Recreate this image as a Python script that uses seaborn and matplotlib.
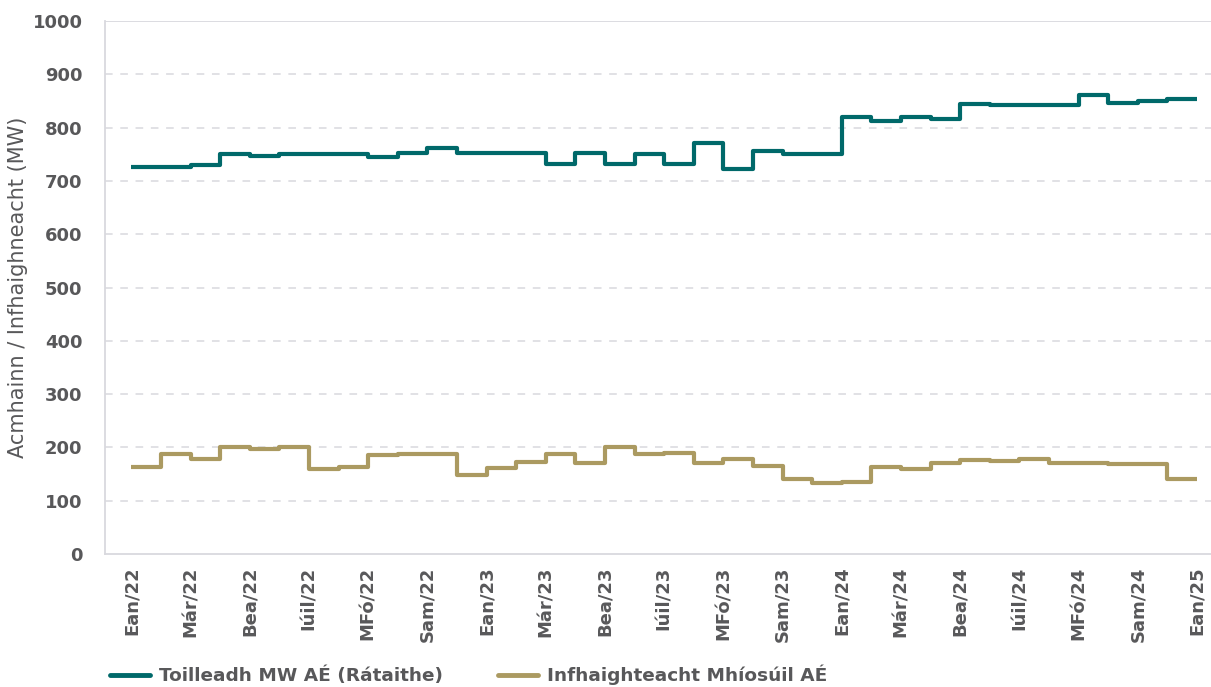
import numpy as np
import pandas as pd
import matplotlib
matplotlib.use("Agg")
import matplotlib.pyplot as plt
import seaborn as sns

# Monthly series, Jan 2022 .. Jan 2025
months = ["Ean", "Fea", "Már", "Aib", "Bea", "Mei", "Iúil", "Lún", "MFó", "DFó", "Sam", "Nol"]
years = ["22", "23", "24", "25"]
month_labels = [f"{months[i % 12]}/{years[i // 12]}" for i in range(37)]

capacity_rated = [727, 727, 730, 750, 747, 751, 751, 751, 745, 753, 761, 753,
                  753, 753, 732, 753, 732, 750, 732, 772, 722, 756, 751, 751,
                  819, 813, 819, 816, 845, 842, 842, 842, 862, 847, 850, 853,
                  853]
availability_monthly = [163, 187, 179, 201, 197, 200, 159, 164, 186, 188, 188, 148,
                        161, 172, 188, 170, 201, 187, 190, 170, 179, 165, 140, 133,
                        135, 164, 159, 170, 177, 174, 179, 171, 171, 169, 169, 140,
                        140]

series_names = ["Toilleadh MW AÉ (Rátaithe)", "Infhaighteacht Mhíosúil AÉ"]
palette = {series_names[0]: "#00696A", series_names[1]: "#AB9A61"}

df = pd.DataFrame({
    "idx": list(range(37)) * 2,
    "value": capacity_rated + availability_monthly,
    "series": [series_names[0]] * 37 + [series_names[1]] * 37,
})

sns.set_theme(style="white")
plt.rcParams["font.family"] = ["DejaVu Sans"]

text_grey = "#58585A"
grid_grey = "#D9D9DE"

fig = plt.figure(figsize=(12.11, 6.87), dpi=100)
ax = fig.add_axes([0.0865, 0.1936, 0.9135, 0.7758])

sns.lineplot(data=df, x="idx", y="value", hue="series", palette=palette,
             drawstyle="steps-post", linewidth=3.0, ax=ax, legend=False,
             solid_capstyle="butt")

ax.set_xlim(-0.9, 36.47)
ax.set_ylim(0, 1000)
ax.set_yticks(np.arange(0, 1001, 100))
ax.set_xticks(range(0, 37, 2))
ax.set_xticklabels([month_labels[i] for i in range(0, 37, 2)], rotation=90,
                   fontsize=13, fontweight="bold", color=text_grey)
ax.tick_params(axis="y", labelsize=13, labelcolor=text_grey, length=6,
               width=1, color=grid_grey, direction="out", pad=10)
for lbl in ax.get_yticklabels():
    lbl.set_fontweight("bold")
ax.tick_params(axis="x", length=0, pad=9)

# dashed horizontal grid, solid top and baseline
for v in range(100, 1000, 100):
    ax.axhline(v, color=grid_grey, linestyle=(0, (5, 5)), linewidth=1.1, zorder=0)
ax.axhline(1000, color=grid_grey, linewidth=1.3, zorder=0)

for side in ["top", "right"]:
    ax.spines[side].set_visible(False)
ax.spines["left"].set_color(grid_grey)
ax.spines["left"].set_linewidth(1.3)
ax.spines["bottom"].set_color(grid_grey)
ax.spines["bottom"].set_linewidth(1.3)

ax.set_xlabel("")
ax.set_ylabel("Acmhainn / Infhaighneacht (MW)", fontsize=15, color=text_grey,
              labelpad=3)

handles = [plt.Line2D([], [], color=palette[n], linewidth=3.5) for n in series_names]
leg = fig.legend(handles, series_names, loc="lower left",
                 bbox_to_anchor=(0.077, -0.022), ncol=2, frameon=False,
                 handlelength=2.15, handletextpad=0.5, columnspacing=3.0,
                 prop={"size": 13.3, "weight": "bold"})
for t in leg.get_texts():
    t.set_color(text_grey)

fig.savefig("out.png", dpi=100)
